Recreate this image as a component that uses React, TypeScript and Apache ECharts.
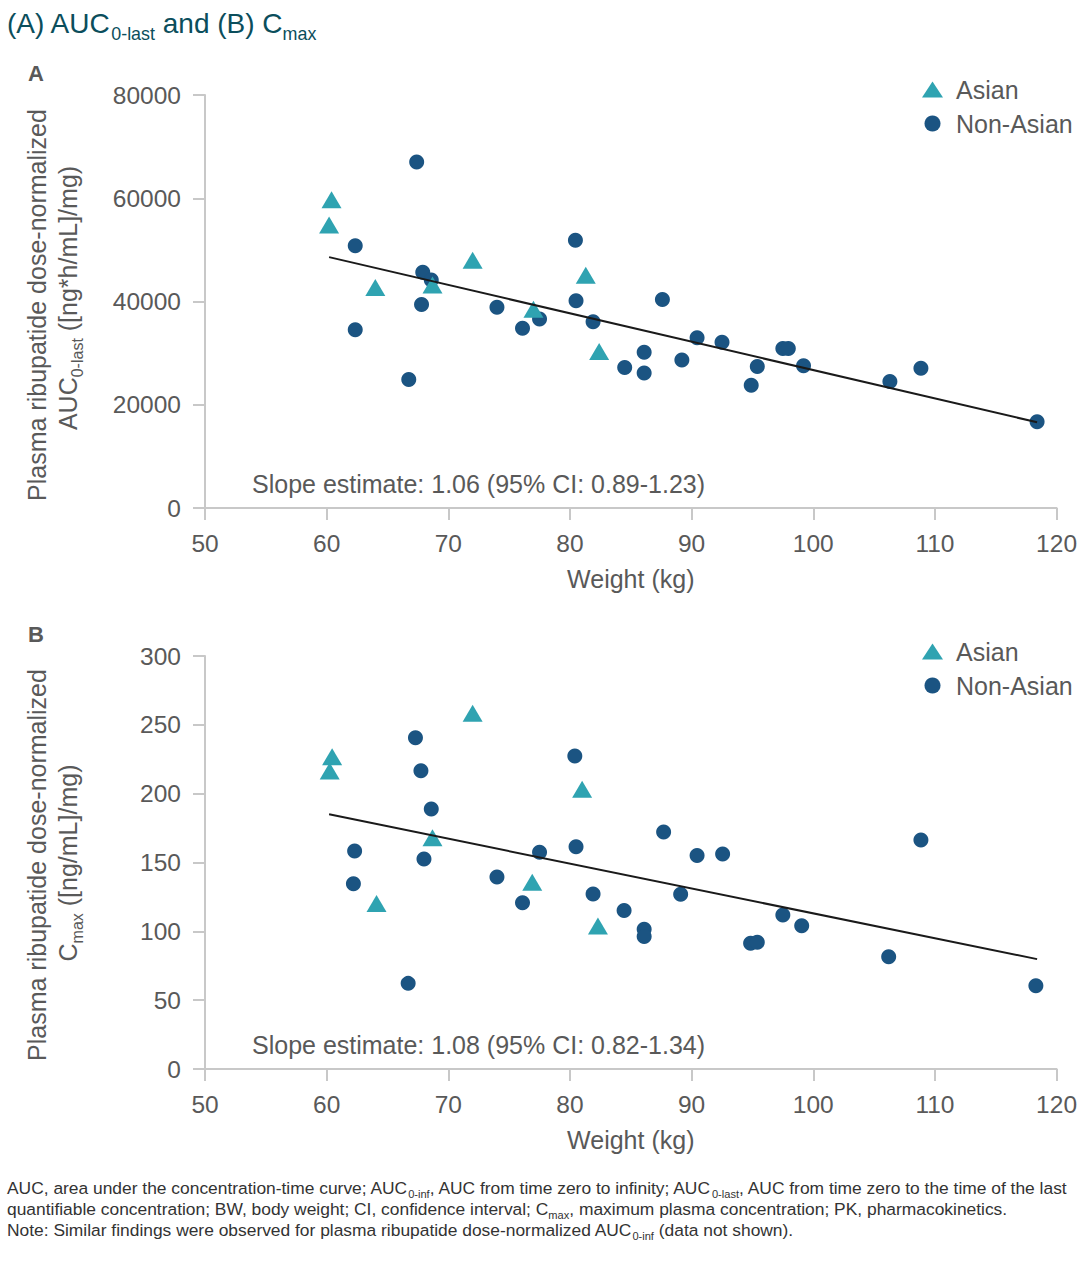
import React, { useEffect, useRef } from "react";
import * as echarts from "echarts";

// ---------------- data ----------------
const xTicks = { min: 50, max: 120, interval: 10 };

// Panel A: AUC0-last
const asianWeightA = [60.4, 60.2, 64.0, 68.7, 72.0, 77.0, 81.3, 82.4];
const asianAucA = [59700, 54800, 42700, 43200, 48000, 38500, 45100, 30300];
const nonAsianWeightA = [
  62.35, 62.35, 66.75, 67.4, 67.8, 67.9, 68.6, 74.0, 76.1, 77.5, 80.45, 80.5, 81.9, 84.5,
  86.1, 86.1, 87.6, 89.2, 90.45, 92.5, 94.9, 95.4, 97.5, 97.95, 99.2, 106.3, 108.85, 118.4,
];
const nonAsianAucA = [
  50800, 34550, 24900, 67000, 39400, 45650, 44150, 38900, 34800, 36600, 51850, 40150, 36100, 27200,
  30150, 26150, 40400, 28650, 33000, 32100, 23800, 27400, 30900, 30900, 27550, 24500, 27050, 16700,
];
const regWeight = [60.2, 118.4];
const regAucA = [48600, 16600];

// Panel B: Cmax
const asianWeightB = [60.45, 60.25, 64.1, 68.7, 72.0, 76.9, 81.0, 82.3];
const asianCmaxB = [226.9, 216.5, 120.3, 168, 258.5, 135.6, 203.2, 103.9];
const nonAsianWeightB = [
  62.3, 62.2, 66.7, 67.3, 67.75, 68.0, 68.6, 74.0, 76.1, 77.5, 80.4, 80.5, 81.9, 84.45,
  86.1, 86.1, 87.7, 89.1, 90.45, 92.55, 94.85, 95.4, 97.5, 99.05, 106.2, 108.85, 118.3,
];
const nonAsianCmaxB = [
  158.4, 134.6, 62.2, 240.7, 216.7, 152.5, 188.9, 139.5, 120.8, 157.4, 227.4, 161.5, 127.2, 115.1,
  101.6, 96.3, 172.2, 127.0, 155.0, 156.2, 91.3, 92.0, 111.9, 104.1, 81.6, 166.3, 60.5,
];
const regCmaxB = [185, 79.8];

const yTicksA = { min: 0, max: 80000, interval: 20000 };
const yTicksB = { min: 0, max: 300, interval: 50 };

const slopeA = "Slope estimate: 1.06 (95% CI: 0.89-1.23)";
const slopeB = "Slope estimate: 1.08 (95% CI: 0.82-1.34)";

// ---------------- styles ----------------
const FONT = "Liberation Sans, Arial, Helvetica, sans-serif";
const TEAL = "#2fa3b1";
const NAVY = "#1b5482";
const GREY_TXT = "#595959";
const AXIS_GREY = "#c8c8c8";

const zip = (xs: number[], ys: number[]) => xs.map((x, i) => [x, ys[i]]);

function xAxisCfg(gridIndex: number) {
  return {
    type: "value",
    gridIndex,
    min: xTicks.min,
    max: xTicks.max,
    interval: xTicks.interval,
    name: "Weight (kg)",
    nameLocation: "middle",
    nameGap: 58,
    nameTextStyle: { fontSize: 25, color: GREY_TXT, fontFamily: FONT },
    axisLine: { show: true, onZero: false, lineStyle: { color: AXIS_GREY, width: 2 } },
    axisTick: { show: true, length: 12, lineStyle: { color: AXIS_GREY, width: 2 } },
    axisLabel: { fontSize: 24.5, color: GREY_TXT, fontFamily: FONT, margin: 23 },
    splitLine: { show: false },
  };
}

function yAxisCfg(gridIndex: number, t: { min: number; max: number; interval: number }) {
  return {
    type: "value",
    gridIndex,
    min: t.min,
    max: t.max,
    interval: t.interval,
    axisLine: { show: true, onZero: false, lineStyle: { color: AXIS_GREY, width: 2 } },
    axisTick: { show: true, length: 12, lineStyle: { color: AXIS_GREY, width: 2 } },
    axisLabel: {
      fontSize: 24.5,
      color: GREY_TXT,
      fontFamily: FONT,
      margin: 24,
      formatter: (v: number) => String(v),
    },
    splitLine: { show: false },
  };
}

function scatter(name: string, idx: number, data: number[][], symbol: string, size: any, color: string) {
  return {
    type: "scatter",
    name,
    xAxisIndex: idx,
    yAxisIndex: idx,
    data,
    symbol,
    symbolSize: size,
    itemStyle: { color, opacity: 1 },
    z: 2,
    emphasis: { disabled: true },
  };
}

function regLine(idx: number, data: number[][]) {
  return {
    type: "line",
    name: "reg" + idx,
    xAxisIndex: idx,
    yAxisIndex: idx,
    data,
    showSymbol: false,
    symbol: "none",
    lineStyle: { color: "#1a1a1a", width: 2 },
    z: 5,
    emphasis: { disabled: true },
  };
}

function legendCfg(top: number) {
  return {
    orient: "vertical",
    left: 917,
    top,
    itemWidth: 21,
    itemHeight: 16,
    itemGap: 9,
    selectedMode: false,
    data: [
      { name: "Asian", icon: "triangle" },
      { name: "Non-Asian", icon: "circle" },
    ],
    textStyle: { fontSize: 25, color: GREY_TXT, fontFamily: FONT, lineHeight: 25, padding: [0, 0, 0, 8] },
  };
}

// rich styles: n = normal, s = subscript (lowered)
const subRich = (size: number, color: string) => {
  const L = Math.round(size * 1.4);
  const sub = Math.round(size * 0.64 * 10) / 10;
  return {
    n: { fontSize: size, color, fontFamily: FONT, lineHeight: L, verticalAlign: "top" },
    s: {
      fontSize: sub,
      color,
      fontFamily: FONT,
      lineHeight: sub,
      verticalAlign: "top",
      padding: [Math.round(L / 2 - size * 0.16), 0, 0, 0],
    },
  };
};

function richText(x: number, y: number, text: string, size: number, color: string, extra: any = {}) {
  return {
    type: "text",
    x,
    y,
    silent: true,
    ...extra,
    style: {
      text,
      fontSize: size,
      fontFamily: FONT,
      fill: color,
      rich: subRich(size, color),
      align: extra.align || "left",
      verticalAlign: "middle",
    },
  };
}

export default function App() {
  const ref = useRef<HTMLDivElement>(null);

  useEffect(() => {
    document.body.style.margin = "0";
    if (!ref.current) return;
    const chart = echarts.init(ref.current, null, { renderer: "svg" });

    const option: any = {
      animation: false,
      backgroundColor: "#ffffff",
      textStyle: { fontFamily: FONT },
      grid: [
        { left: 205, right: 21, top: 95, height: 413 },
        { left: 205, right: 21, top: 656, height: 413 },
      ],
      xAxis: [xAxisCfg(0), xAxisCfg(1)],
      yAxis: [yAxisCfg(0, yTicksA), yAxisCfg(1, yTicksB)],
      legend: [legendCfg(72), legendCfg(634)],
      series: [
        scatter("Non-Asian", 0, zip(nonAsianWeightA, nonAsianAucA), "circle", 15, NAVY),
        scatter("Asian", 0, zip(asianWeightA, asianAucA), "triangle", [20, 17], TEAL),
        regLine(0, zip(regWeight, regAucA)),
        scatter("Non-Asian", 1, zip(nonAsianWeightB, nonAsianCmaxB), "circle", 15, NAVY),
        scatter("Asian", 1, zip(asianWeightB, asianCmaxB), "triangle", [20, 17], TEAL),
        regLine(1, zip(regWeight, regCmaxB)),
      ],
      graphic: [
        // main title
        richText(7, 29, "{n|(A) AUC}{s|0-last}{n| and (B) C}{s|max}", 28, "#0b4e5c"),
        // panel letters
        {
          type: "text",
          x: 36,
          y: 73,
          silent: true,
          style: { text: "A", fontSize: 22, fontWeight: "bold", fill: GREY_TXT, fontFamily: FONT, align: "center", verticalAlign: "middle" },
        },
        {
          type: "text",
          x: 36,
          y: 634,
          silent: true,
          style: { text: "B", fontSize: 22, fontWeight: "bold", fill: GREY_TXT, fontFamily: FONT, align: "center", verticalAlign: "middle" },
        },
        // y axis titles (rotated)
        richText(42, 305, "{n|Plasma ribupatide dose-normalized}", 25, GREY_TXT, { rotation: Math.PI / 2, align: "center" }),
        richText(73, 298, "{n|AUC}{s|0-last}{n| ([ng*h/mL]/mg)}", 25, GREY_TXT, { rotation: Math.PI / 2, align: "center" }),
        richText(42, 865, "{n|Plasma ribupatide dose-normalized}", 25, GREY_TXT, { rotation: Math.PI / 2, align: "center" }),
        richText(73, 863, "{n|C}{s|max}{n| ([ng/mL]/mg)}", 25, GREY_TXT, { rotation: Math.PI / 2, align: "center" }),
        // slope annotations
        {
          type: "text",
          x: 252,
          y: 484,
          silent: true,
          style: { text: slopeA, fontSize: 25, fill: GREY_TXT, fontFamily: FONT, align: "left", verticalAlign: "middle" },
        },
        {
          type: "text",
          x: 252,
          y: 1045,
          silent: true,
          style: { text: slopeB, fontSize: 25, fill: GREY_TXT, fontFamily: FONT, align: "left", verticalAlign: "middle" },
        },
        // footnotes
        richText(
          7,
          1191,
          "{n|AUC, area under the concentration-time curve; AUC}{s|0-inf}{n|, AUC from time zero to infinity; AUC}{s|0-last}{n|, AUC from time zero to the time of the last}",
          17.4,
          "#333333"
        ),
        richText(
          7,
          1212,
          "{n|quantifiable concentration; BW, body weight; CI, confidence interval; C}{s|max}{n|, maximum plasma concentration; PK, pharmacokinetics.}",
          17.4,
          "#333333"
        ),
        richText(
          7,
          1233,
          "{n|Note: Similar findings were observed for plasma ribupatide dose-normalized AUC}{s|0-inf}{n| (data not shown).}",
          17.4,
          "#333333"
        ),
      ],
    };

    chart.setOption(option);
    return () => chart.dispose();
  }, []);

  return <div ref={ref} style={{ width: 1080, height: 1263 }} />;
}
